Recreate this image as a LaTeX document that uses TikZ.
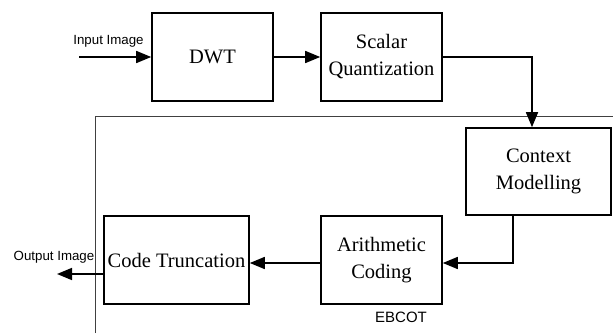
\documentclass[tikz,border=0pt]{standalone}
\usepackage{fontspec}
\setmainfont{Liberation Serif}
\setsansfont{Liberation Sans}
\usetikzlibrary{arrows.meta}
\begin{document}
\begin{tikzpicture}[x=1pt,y=-1pt,
  blk/.style={draw, line width=1.6pt, align=center, inner sep=0pt,
    font=\fontsize{20.5}{27}\selectfont},
  arr/.style={line width=1.6pt, -{Triangle[length=15pt,width=12pt]}},
  lbl/.style={font=\sffamily\fontsize{13.3}{15}\selectfont, inner sep=0pt},
  thin/.style={line width=0.6pt, draw=black!75}]
\useasboundingbox (0,0) rectangle (613,333);
\node[blk, minimum width=121pt, minimum height=88pt] (dwt) at (212.5,57) {DWT};
\node[blk, minimum width=121pt, minimum height=88pt] (sq) at (381.5,57) {Scalar\\Quantization};
\node[blk, minimum width=145pt, minimum height=87pt] (ctx) at (538.5,171.5) {Context\\Modelling};
\node[blk, minimum width=121pt, minimum height=88pt] (ar) at (381.5,260) {Arithmetic\\Coding};
\node[blk, minimum width=145pt, minimum height=88pt] (ct) at (176.5,260) {Code Truncation};
\coordinate (inp) at (79,57);
\coordinate (outp) at (57,274);
\coordinate (b1) at (95,333);
\coordinate (b2) at (95,116);
\coordinate (b3) at (613,116);
\draw[thin] (b1) -- (b2) -- (b3);
\node[lbl] (inl) at (108.5,41) {Input Image};
\node[lbl] (outl) at (54,257) {Output Image};
\node[lbl, font=\sffamily\fontsize{15}{17}\selectfont] (eb) at (401,317) {EBCOT};
\draw[arr] (inp) -- (dwt.west);
\draw[arr] (dwt.east) -- (sq.west);
\draw[arr] (sq.east) -| ([xshift=-6.5pt]ctx.north);
\draw[arr] ([xshift=-25.5pt]ctx.south) |- ([yshift=-3pt]ar.east);
\draw[arr] ([yshift=-3pt]ar.west) -- ([yshift=-3pt]ct.east);
\draw[arr] ([yshift=-14pt]ct.west) -- (outp);
\end{tikzpicture}
\end{document}
